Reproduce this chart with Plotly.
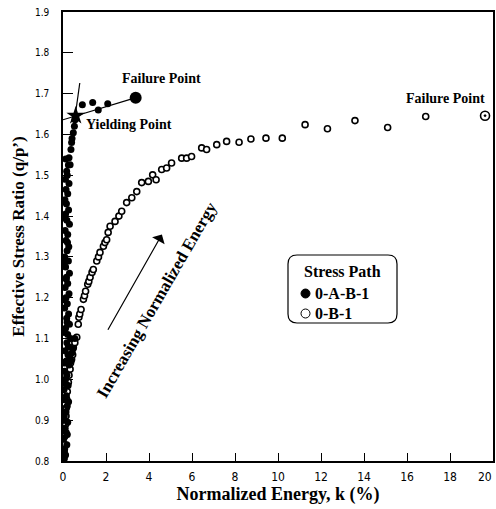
import plotly.graph_objects as go

# ---- data: stress path 0-A-B-1 (filled) ----
fab_x = [0.05, 0.12, 0.08, 0.18, 0.04, 0.15, 0.10, 0.22, 0.06, 0.14, 0.20, 0.09, 0.16, 0.05,
         0.24, 0.12, 0.18, 0.08, 0.28, 0.15, 0.32, 0.10, 0.25, 0.18, 0.35, 0.22, 0.12, 0.30,
         0.17, 0.26, 0.08, 0.20, 0.14, 0.28, 0.10, 0.22, 0.16, 0.30, 0.12, 0.25, 0.08, 0.19,
         0.27, 0.14, 0.22, 0.10, 0.30, 0.18, 0.12, 0.26, 0.16, 0.09, 0.22, 0.14, 0.28, 0.11,
         0.20, 0.17, 0.25, 0.13, 0.42, 0.55, 0.38, 0.47,
         0.06, 0.20, 0.03, 0.26, 0.11, 0.07, 0.23, 0.04, 0.19, 0.09, 0.15, 0.05, 0.21, 0.08,
         0.28, 0.33, 0.37, 0.40, 0.42, 0.48, 0.53, 0.56,
         0.90, 1.38, 1.64, 2.08]
fab_y = [0.805, 0.815, 0.830, 0.840, 0.855, 0.870, 0.880, 0.895, 0.910, 0.920, 0.935, 0.950,
         0.960, 0.975, 0.985, 1.000, 1.010, 1.020, 1.035, 1.045, 1.055, 1.070, 1.080, 1.090,
         1.100, 1.110, 1.125, 1.135, 1.150, 1.160, 1.175, 1.185, 1.200, 1.210, 1.225, 1.235,
         1.250, 1.260, 1.275, 1.290, 1.300, 1.315, 1.325, 1.340, 1.355, 1.365, 1.380, 1.390,
         1.405, 1.415, 1.430, 1.440, 1.455, 1.465, 1.480, 1.490, 1.500, 1.510, 1.525, 1.540,
         1.065, 1.100, 1.045, 1.075,
         0.825, 0.865, 0.900, 0.945, 0.990, 1.040, 1.060, 1.115, 1.140, 1.195, 1.245, 1.285,
         1.335, 1.395,
         1.543, 1.526, 1.563, 1.580, 1.590, 1.604, 1.620, 1.636,
         1.673, 1.678, 1.660, 1.675]
fab_yield = (0.59, 1.646)
fab_fail = (3.38, 1.690)
# fitted lines through yielding point
fab_line1_x = [0.0, 3.2]
fab_line1_y = [1.636, 1.687]
fab_line2_x = [0.78, 0.50]
fab_line2_y = [1.726, 1.620]

# ---- data: stress path 0-B-1 (open) ----
ob_x = [0.05, 0.05, 0.08, 0.09, 0.12, 0.14, 0.15, 0.17, 0.20, 0.25, 0.28, 0.33, 0.35, 0.40,
        0.45, 0.48, 0.55, 0.64, 0.71, 0.74, 0.78, 0.84, 0.95, 1.00, 1.05, 1.15, 1.20, 1.26,
        1.35, 1.41, 1.57, 1.65, 1.72, 1.88, 1.95, 2.03, 2.10, 2.19, 2.42, 2.60, 2.73, 2.96,
        3.20, 3.43, 3.66, 3.97, 4.17, 4.33, 4.59, 4.82, 5.05, 5.52, 5.75, 5.98, 6.45, 6.68,
        7.15, 7.61, 8.19, 8.74, 9.44, 10.2, 11.26, 12.3, 13.58, 15.1, 16.87]
ob_y = [0.808, 0.822, 0.840, 0.861, 0.890, 0.910, 0.930, 0.951, 0.970, 0.993, 1.010, 1.025,
        1.040, 1.049, 1.060, 1.078, 1.090, 1.103, 1.135, 1.152, 1.160, 1.171, 1.196, 1.205,
        1.216, 1.233, 1.240, 1.250, 1.262, 1.269, 1.290, 1.300, 1.311, 1.326, 1.335, 1.342,
        1.360, 1.375, 1.387, 1.400, 1.412, 1.433, 1.445, 1.460, 1.482, 1.485, 1.501, 1.489,
        1.514, 1.518, 1.530, 1.542, 1.542, 1.546, 1.567, 1.563, 1.575, 1.583, 1.581, 1.589,
        1.591, 1.591, 1.624, 1.614, 1.634, 1.617, 1.644]
ob_fail = (19.63, 1.646)

# arrow (increasing normalized energy)
arrow_tail = (2.05, 1.118)
arrow_head = (4.60, 1.355)

x_ticks = [0, 2, 4, 6, 8, 10, 12, 14, 16, 18, 20]
x_tick_text = ["0", "2", "4", "6", "8", "10", "12", "14", "16", "18", "20"]
y_ticks = [0.8, 0.9, 1.0, 1.1, 1.2, 1.3, 1.4, 1.5, 1.6, 1.7, 1.8, 1.9]
y_tick_text = ["0.8", "0.9", "1.0", "1.1", "1.2", "1.3", "1.4", "1.5", "1.6", "1.7", "1.8", "1.9"]

SERIF = "Liberation Serif, Times New Roman, serif"
NARROW = "Liberation Sans Narrow, Arial Narrow, DejaVu Sans Condensed, sans-serif"

# plot area at x 63..493, y 12..461 (page body margin removed in post_script)
ML, MR, MT, MB = 63, 3, 12, 48
W, H = 496, 509
PW, PH = W - ML - MR, H - MT - MB

# the last x label sits flush against the right page edge: draw it right-anchored
x_tick_display = x_tick_text[:-1] + [""]

fig = go.Figure()

fig.add_trace(go.Scatter(x=fab_line1_x, y=fab_line1_y, mode="lines",
                         line=dict(color="black", width=1.2), showlegend=False, hoverinfo="skip"))
fig.add_trace(go.Scatter(x=fab_line2_x, y=fab_line2_y, mode="lines",
                         line=dict(color="black", width=1.2), showlegend=False, hoverinfo="skip"))

fig.add_trace(go.Scatter(x=ob_x, y=ob_y, mode="markers", name="0-B-1",
                         marker=dict(symbol="circle", size=6, color="white",
                                     line=dict(color="black", width=1.6)),
                         showlegend=False))
fig.add_trace(go.Scatter(x=[ob_fail[0]], y=[ob_fail[1]], mode="markers",
                         marker=dict(symbol="circle-dot", size=9, color="white",
                                     line=dict(color="black", width=1.6)),
                         showlegend=False))

fig.add_trace(go.Scatter(x=fab_x, y=fab_y, mode="markers", name="0-A-B-1",
                         marker=dict(symbol="circle", size=7, color="black"),
                         showlegend=False))
fig.add_trace(go.Scatter(x=[fab_yield[0]], y=[fab_yield[1]], mode="markers",
                         marker=dict(symbol="star", size=14, color="black"),
                         showlegend=False))
fig.add_trace(go.Scatter(x=[fab_fail[0]], y=[fab_fail[1]], mode="markers",
                         marker=dict(symbol="circle", size=12, color="black"),
                         showlegend=False))

ann_font = dict(family=SERIF, size=14, color="black")
annotations = [
    dict(x=4.6, y=1.736, text="<b>Failure Point</b>", showarrow=False, font=ann_font),
    dict(x=3.05, y=1.624, text="<b>Yielding Point</b>", showarrow=False, font=ann_font),
    dict(x=17.77, y=1.687, text="<b>Failure Point</b>", showarrow=False, font=ann_font),
    dict(x=4.37, y=1.196, text="<b>Increasing Normalized Energy</b>", showarrow=False,
         textangle=-60, font=dict(family=SERIF, size=17, color="black")),
    dict(x=arrow_head[0], y=arrow_head[1], ax=arrow_tail[0], ay=arrow_tail[1],
         axref="x", ayref="y", xref="x", yref="y", text="", showarrow=True,
         arrowhead=1, arrowsize=2.0, arrowwidth=1.2, arrowcolor="black"),
    # last x tick label, right-anchored so it stays inside the page
    dict(x=x_ticks[-1], xref="x", y=0, yref="paper", text=x_tick_text[-1], showarrow=False,
         xanchor="right", yanchor="top", xshift=1, yshift=-7,
         font=dict(family=NARROW, size=12, color="black")),
]


def px2paper(X, Y):
    return (X - ML) / PW, (H - MB - Y) / PH


leg_font = dict(family=SERIF, size=16, color="black")
for (X, Y, t) in [(302, 272, "<b>Stress Path</b>"), (313, 293, "<b>0-A-B-1</b>"),
                  (313, 313, "<b>0-B-1</b>")]:
    lx, ly = px2paper(X, Y)
    annotations.append(dict(xref="paper", yref="paper", x=lx, y=ly, xanchor="left",
                            yanchor="middle", text=t, showarrow=False, font=leg_font))

shapes = []
x0, y0 = px2paper(288, 323)
x1, y1 = px2paper(397, 255)
rx, ry = 9 / PW, 9 / PH
path = (f"M {x0+rx},{y0} L {x1-rx},{y0} Q {x1},{y0} {x1},{y0+ry} "
        f"L {x1},{y1-ry} Q {x1},{y1} {x1-rx},{y1} L {x0+rx},{y1} Q {x0},{y1} {x0},{y1-ry} "
        f"L {x0},{y0+ry} Q {x0},{y0} {x0+rx},{y0} Z")
shapes.append(dict(type="path", xref="paper", yref="paper", path=path,
                   line=dict(color="black", width=1.2), fillcolor="white", layer="below"))
cx0, cy0 = px2paper(301, 298)
cx1, cy1 = px2paper(310, 289)
shapes.append(dict(type="circle", xref="paper", yref="paper", x0=cx0, y0=cy0, x1=cx1, y1=cy1,
                   fillcolor="black", line=dict(color="black", width=1)))
cx0, cy0 = px2paper(301, 318)
cx1, cy1 = px2paper(310, 309)
shapes.append(dict(type="circle", xref="paper", yref="paper", x0=cx0, y0=cy0, x1=cx1, y1=cy1,
                   fillcolor="white", line=dict(color="black", width=1)))

fig.update_layout(
    width=W, height=H,
    margin=dict(l=ML, r=MR, t=MT, b=MB, autoexpand=False),
    paper_bgcolor="white", plot_bgcolor="white",
    showlegend=False,
    annotations=annotations,
    shapes=shapes,
    xaxis=dict(range=[0, 20], tickvals=x_ticks, ticktext=x_tick_display, ticks="inside",
               ticklen=8, tickwidth=1,
               tickcolor="black", showline=True, linecolor="black", linewidth=1.5, mirror=True,
               showgrid=False, zeroline=False, automargin=False, ticklabeloverflow="allow",
               tickfont=dict(family=NARROW, size=12, color="black"), ticklabelstandoff=4,
               title=dict(text="<b>Normalized Energy, k (%)</b>", standoff=2,
                          font=dict(family=SERIF, size=18, color="black"))),
    yaxis=dict(range=[0.8, 1.9], tickvals=y_ticks, ticktext=y_tick_text, ticks="inside",
               ticklen=10, tickwidth=1, tickcolor="black", showline=True, linecolor="black",
               linewidth=1.5, mirror=True, showgrid=False, zeroline=False, automargin=False,
               ticklabeloverflow="allow",
               tickfont=dict(family=NARROW, size=10, color="black"), ticklabelstandoff=10,
               title=dict(text="<b>Effective Stress Ratio (q/p’)</b>", standoff=6,
                          font=dict(family=SERIF, size=17, color="black"))),
)

fig.write_html("out.html", config={"displayModeBar": False},
               post_script="document.body.style.margin='0';document.body.style.overflow='hidden';")
